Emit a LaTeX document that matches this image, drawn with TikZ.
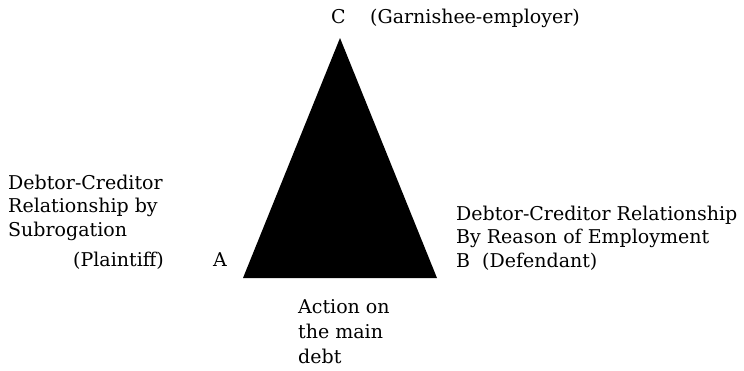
\documentclass[tikz,border=0pt]{standalone}
\usepackage{fontspec}
\setmainfont{DejaVu Serif}
\begin{document}
\begin{tikzpicture}[x=1pt, y=-1pt,
  lbl/.style={inner sep=0pt, anchor=base west, font=\fontsize{19}{24}\selectfont}]
\useasboundingbox (0,0) rectangle (744,370);
% the triangle
\coordinate (A) at (243,278);
\coordinate (B) at (437,278);
\coordinate (C) at (340,38);
\fill[black] (A) -- (C) -- (B) -- cycle;
% apex
\node[lbl] (cname) at (331,23) {C};
\node[lbl] (garnishee) at (370,23) {(Garnishee-employer)};
% left side
\foreach \t [count=\i] in {Debtor-Creditor, Relationship by, Subrogation}
  \node[lbl] (left\i) at (8,189+23.5*\i-23.5) {\t};
\node[lbl] (plaintiff) at (73,266) {(Plaintiff)};
\node[lbl] (aname) at (213,266) {A};
% right side
\foreach \t [count=\i] in {Debtor-Creditor Relationship, By Reason of Employment}
  \node[lbl] (right\i) at (456,220+23.5*\i-23.5) {\t};
\node[lbl] (bname) at (456,267) {B};
\node[lbl] (defendant) at (482,267) {(Defendant)};
% base
\foreach \t [count=\i] in {Action on, the main, debt}
  \node[lbl] (base\i) at (298,313+25*\i-25) {\t};
\end{tikzpicture}
\end{document}
